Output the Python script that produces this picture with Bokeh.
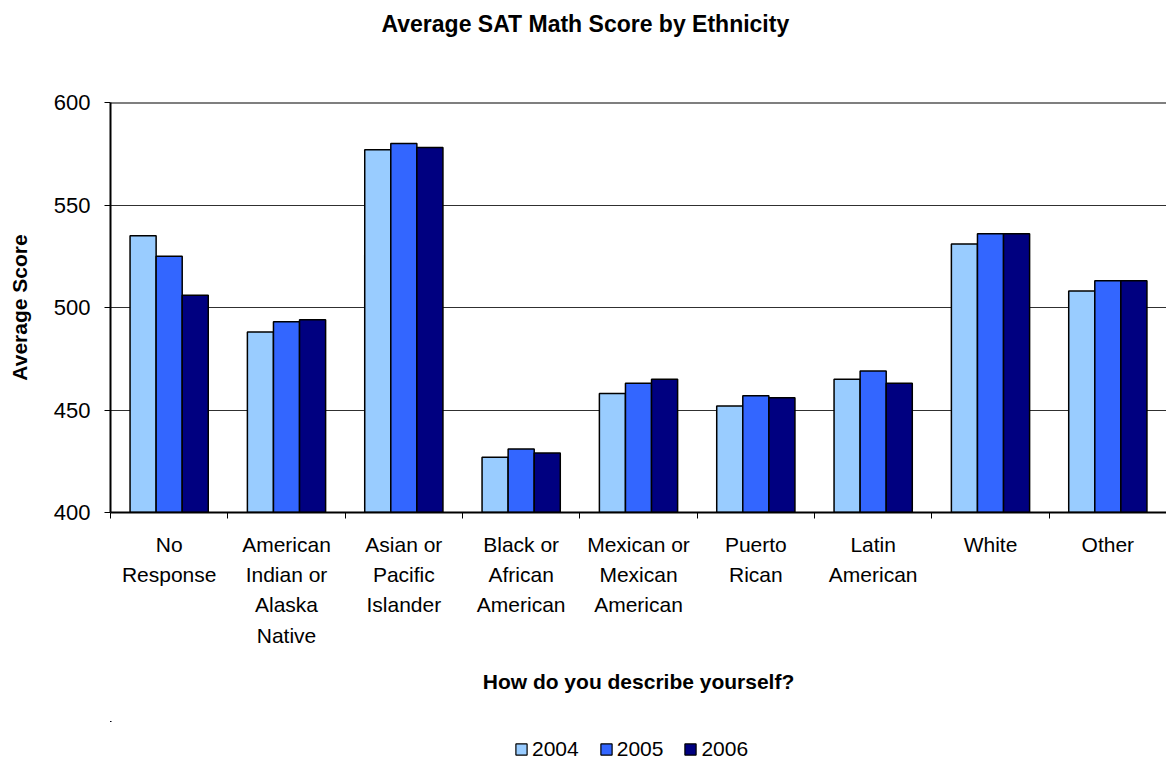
from bokeh.plotting import figure
from bokeh.layouts import column
from bokeh.models import (Range1d, FixedTicker, Legend, LegendItem, Span, LinearAxis)
from bokeh.embed import file_html
from bokeh.resources import INLINE

categories = ["No\nResponse", "American\nIndian or\nAlaska\nNative", "Asian or\nPacific\nIslander",
              "Black or\nAfrican\nAmerican", "Mexican or\nMexican\nAmerican", "Puerto\nRican",
              "Latin\nAmerican", "White", "Other"]
years = ["2004", "2005", "2006"]
scores_2004 = [535, 488, 577, 427, 458, 452, 465, 531, 508]
scores_2005 = [525, 493, 580, 431, 463, 457, 469, 536, 513]
scores_2006 = [506, 494, 578, 429, 465, 456, 463, 536, 513]
colors = ["#99CCFF", "#3366FF", "#000080"]
y_ticks = [400, 450, 500, 550, 600]

FONT = "Liberation Sans"

p = figure(frame_width=1056, frame_height=410, output_backend="svg", toolbar_location=None,
           x_range=Range1d(0, len(categories)), y_range=Range1d(400, 600),
           min_border_left=110, min_border_right=0, min_border_top=102, min_border_bottom=209)
p.outline_line_color = None
p.background_fill_color = "white"
p.border_fill_color = "white"

n = len(categories)
centers = [i + 0.5 for i in range(n)]
bw = 1 / 4.5
series = [scores_2004, scores_2005, scores_2006]
for k, (vals, col) in enumerate(zip(series, colors)):
    xs = [c + (k - 1) * bw for c in centers]
    p.vbar(x=xs, top=vals, bottom=400, width=bw, fill_color=col,
           line_color="black", line_width=1.5)

# axes (grab the bottom axis before adding the spacer above)
xa = p.below[0]
ya = p.left[0]

xa.ticker = FixedTicker(ticks=centers, minor_ticks=list(range(n + 1)))
xa.major_label_overrides = {c: lab for c, lab in zip(centers, categories)}
xa.major_tick_out = 0
xa.major_tick_in = 0
xa.minor_tick_out = 6
xa.minor_tick_in = 0
xa.minor_tick_line_color = "black"
xa.axis_line_color = "black"
xa.axis_line_width = 2
xa.major_label_text_font = FONT
xa.major_label_text_font_size = "21px"
xa.major_label_text_color = "black"
xa.major_label_text_line_height = 1.32
xa.major_label_standoff = 14
xa.axis_label = "How do you describe yourself?"
xa.axis_label_text_font = FONT
xa.axis_label_text_font_size = "21px"
xa.axis_label_text_font_style = "bold"
xa.axis_label_text_color = "black"
xa.axis_label_standoff = 20

ya.ticker = FixedTicker(ticks=y_ticks)
ya.major_tick_out = 6
ya.major_tick_in = 0
ya.minor_tick_out = 0
ya.minor_tick_in = 0
ya.major_tick_line_color = "black"
ya.axis_line_color = "black"
ya.axis_line_width = 2
ya.major_label_text_font = FONT
ya.major_label_text_font_size = "22px"
ya.major_label_text_color = "black"
ya.major_label_standoff = 14
ya.axis_label = "Average Score"
ya.axis_label_text_font = FONT
ya.axis_label_text_font_size = "21px"
ya.axis_label_text_font_style = "bold"
ya.axis_label_text_color = "black"
ya.axis_label_standoff = 20

# invisible spacer above the frame, so that the title sits near the top
spacer = LinearAxis(ticker=FixedTicker(ticks=[centers[4]]), major_tick_out=66, major_tick_in=0,
                    minor_tick_out=0, minor_tick_in=0, major_label_standoff=0,
                    major_label_overrides={centers[4]: " "},
                    major_label_text_font_size="1px", major_label_text_alpha=0,
                    axis_line_color=None, major_tick_line_color=None,
                    minor_tick_line_color=None)
p.add_layout(spacer, "above")

# title
p.title.text = "Average SAT Math Score by Ethnicity"
p.title.align = "left"
p.title.offset = 271
p.title.standoff = 0
p.title.text_font = FONT
p.title.text_font_size = "23px"
p.title.text_font_style = "bold"
p.title.text_color = "black"

p.xgrid.visible = False
p.ygrid.ticker = FixedTicker(ticks=y_ticks)
p.ygrid.grid_line_color = "#303030"
p.ygrid.grid_line_width = 1

p.add_layout(Span(location=600, dimension="width", line_color="black", line_width=2))

# legend strip below the chart (its bars lie outside its ranges, only the swatches show)
pl = figure(width=1166, height=40, output_backend="svg", toolbar_location=None,
            x_range=Range1d(100, 101), y_range=Range1d(-100, -99), min_border=0)
pl.axis.visible = False
pl.grid.visible = False
pl.outline_line_color = None
pl.border_fill_color = "white"
pl.background_fill_color = "white"
leg_renderers = [pl.vbar(x=centers, top=vals, bottom=400, width=bw, fill_color=col,
                         line_color="black", line_width=1.2)
                 for vals, col in zip(series, colors)]
legend = Legend(items=[LegendItem(label=y, renderers=[r]) for y, r in zip(years, leg_renderers)],
                orientation="horizontal", location=(404, 0),
                label_text_font=FONT, label_text_font_size="21px", label_text_color="black",
                glyph_width=14, glyph_height=14, label_standoff=4, spacing=20,
                padding=0, margin=0, border_line_color=None, background_fill_alpha=0)
pl.add_layout(legend, "center")

layout = column(p, pl, spacing=0)
open("out.html", "w").write(file_html(layout, INLINE))
